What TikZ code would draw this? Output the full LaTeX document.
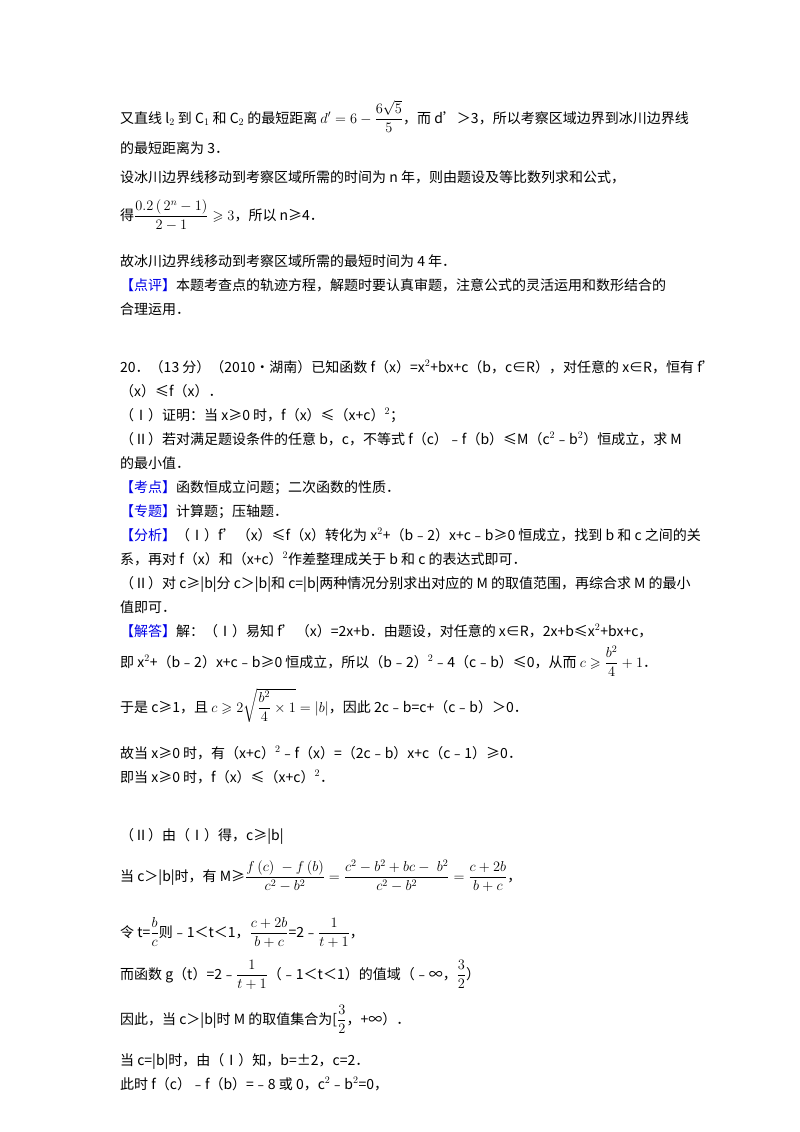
\documentclass[tikz,border=0pt]{standalone}
\usepackage{amsmath,amssymb}
\usepackage{fontspec}
\setmainfont{Noto Sans CJK SC}
\definecolor{tagblue}{RGB}{0,0,230}
\newcommand{\tg}[1]{\textcolor{tagblue}{【#1】}}
\begin{document}
\begin{tikzpicture}[x=1pt,y=-1pt,ln/.style={anchor=base west,inner sep=0pt,font=\fontsize{14}{16}\selectfont}]
\useasboundingbox (0,0) rectangle (800,1132);
\node[ln] (l1) at (120,123) {又直线 l$_2$ 到 C$_1$ 和 C$_2$ 的最短距离 $d'=6-\dfrac{6\sqrt5}{5}$，而 d'＞3，所以考察区域边界到冰川边界线};
\node[ln] (l2) at (120,153) {的最短距离为 3．};
\node[ln] (l3) at (120,182) {设冰川边界线移动到考察区域所需的时间为 n 年，则由题设及等比数列求和公式，};
\node[ln] (l4) at (120,220) {得$\dfrac{0.2\,(\,2^{n}-1)}{2-1}\geqslant 3$，所以 n≥4．};
\node[ln] (l5) at (120,266) {故冰川边界线移动到考察区域所需的最短时间为 4 年．};
\node[ln] (l6) at (120,290) {\tg{点评}本题考查点的轨迹方程，解题时要认真审题，注意公式的灵活运用和数形结合的};
\node[ln] (l7) at (120,314) {合理运用．};
\node[ln] (l8) at (120,372) {20．（13 分）（2010•湖南）已知函数 f（x）=x$^2$+bx+c（b，c∈R），对任意的 x∈R，恒有 f'};
\node[ln] (l9) at (120,396) {（x）≤f（x）．};
\node[ln] (l10) at (120,420) {（Ⅰ）证明：当 x≥0 时，f（x）≤（x+c）$^2$；};
\node[ln] (l11) at (120,444) {（Ⅱ）若对满足题设条件的任意 b，c，不等式 f（c）﹣f（b）≤M（c$^2$﹣b$^2$）恒成立，求 M};
\node[ln] (l12) at (120,468) {的最小值．};
\node[ln] (l13) at (120,492) {\tg{考点}函数恒成立问题；二次函数的性质．};
\node[ln] (l14) at (120,516) {\tg{专题}计算题；压轴题．};
\node[ln] (l15) at (120,540) {\tg{分析}（Ⅰ）f'（x）≤f（x）转化为 x$^2$+（b﹣2）x+c﹣b≥0 恒成立，找到 b 和 c 之间的关};
\node[ln] (l16) at (120,564) {系，再对 f（x）和（x+c）$^2$作差整理成关于 b 和 c 的表达式即可．};
\node[ln] (l17) at (120,588) {（Ⅱ）对 c≥|b|分 c＞|b|和 c=|b|两种情况分别求出对应的 M 的取值范围，再综合求 M 的最小};
\node[ln] (l18) at (120,612) {值即可．};
\node[ln] (l19) at (120,636) {\tg{解答}解：（Ⅰ）易知 f'（x）=2x+b．由题设，对任意的 x∈R，2x+b≤x$^2$+bx+c，};
\node[ln] (l20) at (120,667) {即 x$^2$+（b﹣2）x+c﹣b≥0 恒成立，所以（b﹣2）$^2$﹣4（c﹣b）≤0，从而 $c\geqslant\dfrac{b^2}{4}+1$．};
\node[ln] (l21) at (120,712) {于是 c≥1，且 $c\geqslant 2\sqrt{\dfrac{b^2}{4}\times 1}=|b|$，因此 2c﹣b=c+（c﹣b）＞0．};
\node[ln] (l22) at (120,758) {故当 x≥0 时，有（x+c）$^2$﹣f（x）=（2c﹣b）x+c（c﹣1）≥0．};
\node[ln] (l23) at (120,782) {即当 x≥0 时，f（x）≤（x+c）$^2$．};
\node[ln] (l24) at (120,840) {（Ⅱ）由（Ⅰ）得，c≥|b|};
\node[ln] (l25) at (120,881) {当 c＞|b|时，有 M≥$\dfrac{f\,(c)\;-f\,(b)}{c^2-b^2}=\dfrac{c^2-b^2+bc-\;b^2}{c^2-b^2}=\dfrac{c+2b}{b+c}$，};
\node[ln] (l26) at (120,937) {令 t=$\dfrac{b}{c}$则﹣1＜t＜1，$\dfrac{c+2b}{b+c}$=2﹣$\dfrac{1}{t+1}$，};
\node[ln] (l27) at (120,979) {而函数 g（t）=2﹣$\dfrac{1}{t+1}$（﹣1＜t＜1）的值域（﹣∞，$\dfrac{3}{2}$）};
\node[ln] (l28) at (120,1024) {因此，当 c＞|b|时 M 的取值集合为[$\dfrac{3}{2}$，+∞）．};
\node[ln] (l29) at (120,1065) {当 c=|b|时，由（Ⅰ）知，b=±2，c=2．};
\node[ln] (l30) at (120,1089) {此时 f（c）﹣f（b）=﹣8 或 0，c$^2$﹣b$^2$=0，};
\end{tikzpicture}
\end{document}
